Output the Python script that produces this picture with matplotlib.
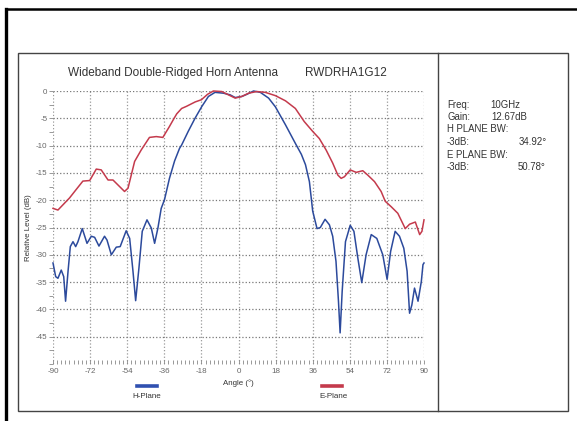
import matplotlib
matplotlib.use("Agg")
import matplotlib.pyplot as plt
import numpy as np
from matplotlib.lines import Line2D
from matplotlib.patches import Rectangle
from matplotlib.ticker import MultipleLocator

plt.rcParams['font.family'] = ['Liberation Sans', 'DejaVu Sans']
plt.rcParams['axes.unicode_minus'] = False

# H-plane pattern (blue)
h_angle = [-90, -88.7, -87.6, -86, -84.8, -83.9, -82.7, -81.6, -80.3, -79, -77.9,
           -75.8, -73.5, -71.4, -69.8, -67.7, -65, -63.8, -61.7, -59.3, -57.4,
           -54.5, -52.8, -51.2, -49.9, -48.3, -46.7, -44.4, -42.3, -40.7, -39.1,
           -37.5, -35.9, -33.5, -31, -28.6, -27.6, -24.4, -21.1, -17.9, -14.6,
           -11.4, -7.3, -4.1, -1.6, 1.6, 4.1, 7.3, 10.6, 14.6, 17.9, 22.8, 27.6,
           30.5, 32.5, 34.4, 36, 38.1, 39.7, 42, 44.1, 45.7, 47.3, 48.5, 49.3,
           50.3, 51.9, 54.2, 56, 57.9, 59.8, 61.9, 64.4, 67.1, 70, 72.1, 73.8,
           76, 78.1, 80.2, 81.8, 83, 84.1, 85.4, 87.1, 88.7, 89.5, 90]
h_level = [-31.5, -34, -34.3, -32.8, -34, -38.5, -33, -28.5, -27.6, -28.5, -27.6,
           -25.2, -27.9, -26.6, -26.8, -28.4, -26.6, -27.3, -30, -28.6, -28.5,
           -25.6, -27, -33, -38.4, -32.4, -25.7, -23.6, -25.1, -27.9, -25.1,
           -21.5, -19.9, -16, -12.8, -10.5, -9.9, -7.4, -5.0, -2.9, -1.0,
           -0.25, -0.4, -0.7, -1.2, -1.0, -0.6, 0, -0.25, -1.3, -2.9, -6.2, -9.6,
           -11.6, -13.5, -16.6, -22, -25.2, -25, -23.5, -24.5, -26.6, -31.2, -38.5, -44.3,
           -36.7, -27.6, -24.6, -25.7, -30.6, -35.1, -30, -26.3, -27, -30, -34.5, -29.4,
           -25.7, -26.6, -28.8, -33, -40.7, -39.2, -36.1, -38.5, -34.9, -31.8, -31.5]

# E-plane pattern (red)
e_angle = [-90, -87.6, -84.3, -82, -79.5, -75.5, -72.2, -69, -66.6, -63.3, -60.9,
           -58.5, -55.3, -53.6, -50.4, -47.2, -43.2, -39.9, -36.7, -33.5, -31.7,
           -30, -27.6, -25.2, -21, -18, -15, -12.2, -8.1, -4.9, -1.6, 1.6, 4.9,
           8.9, 13, 17.9, 22.8, 27.6, 31.9, 36, 39.2, 42.5, 45.7, 48.2, 49.8,
           51.4, 54.2, 57.1, 60.3, 62.7, 66, 69.2, 71.2, 74.1, 77.3, 80.9, 83,
           85.8, 87.9, 89, 90]
e_level = [-21.5, -21.8, -20.5, -19.6, -18.4, -16.5, -16.4, -14.3, -14.45, -16.3, -16.3,
           -17.2, -18.4, -17.8, -12.9, -10.8, -8.5, -8.35, -8.5, -6.5, -5.3,
           -4.2, -3.2, -2.8, -2.0, -1.6, -0.6, 0, -0.1, -0.7, -1.3, -1.0, -0.4,
           -0.1, -0.25, -0.85, -1.8, -3.2, -5.6, -7.4, -8.7, -10.8, -13.2, -15.4, -16,
           -15.7, -14.45, -14.9, -14.6, -15.4, -16.6, -18.4, -20.2, -21.2, -22.4, -25.2, -24.4,
           -24, -26.3, -25.7, -23.6]

x_ticks = np.arange(-90, 91, 18)
y_ticks = np.arange(-45, 1, 5)

blue = '#2c4a9c'
red = '#c43a4c'
txt = '#333333'

W, H = 577, 421
fig = plt.figure(figsize=(W / 100, H / 100), dpi=100)

def fx(px):
    return px / W

def fy(py):
    return 1 - py / H

# outer frame lines and inner box
fig.add_artist(Line2D([fx(5.5), fx(577)], [fy(9), fy(9)], color='black', lw=1.8))
fig.add_artist(Line2D([fx(5.5), fx(5.5)], [fy(9), fy(421)], color='black', lw=2.4))
fig.add_artist(Rectangle((fx(18), fy(410.5)), fx(568) - fx(18), fy(53) - fy(410.5),
                         fill=False, edgecolor='#444444', lw=1.0))
fig.add_artist(Line2D([fx(437.5), fx(437.5)], [fy(53), fy(410.5)], color='#444444', lw=1.0))

ax = fig.add_axes([fx(53), fy(364), fx(424) - fx(53), fy(91) - fy(364)])
ax.plot(h_angle, h_level, color=blue, lw=1.1, clip_on=False, zorder=3,
        solid_joinstyle='round')
ax.plot(e_angle, e_level, color=red, lw=1.1, clip_on=False, zorder=3,
        solid_joinstyle='round')

ax.set_xlim(-90, 90)
ax.set_ylim(-50, 0)
ax.set_xticks(x_ticks)
ax.set_yticks(y_ticks)
ax.xaxis.set_minor_locator(MultipleLocator(2))
ax.yaxis.set_minor_locator(MultipleLocator(2.5))
for s in ax.spines.values():
    s.set_visible(False)
ax.grid(True, which='major', axis='y', color='#777777', ls=':', lw=0.9)
ax.grid(True, which='major', axis='x', color='#999999', ls=':', lw=0.9)
ax.tick_params(axis='x', which='both', direction='in', length=3, width=0.6,
               color='#888888', labelsize=5.8, labelcolor='#666666', pad=3)
ax.tick_params(axis='y', which='both', direction='out', length=3, width=0.6,
               color='#888888', labelsize=5.8, labelcolor='#666666', pad=1)
ax.set_ylabel('Relative Level (dB)', fontsize=5.7, color=txt, labelpad=3)
ax.set_xlabel('Angle (°)', fontsize=5.7, color=txt, labelpad=3)

# title
fig.text(fx(68), fy(73), 'Wideband Double-Ridged Horn Antenna', fontsize=8.5,
         color=txt, va='center', ha='left')
fig.text(fx(305), fy(73), 'RWDRHA1G12', fontsize=8.5, color=txt, va='center', ha='left')

# legend under the plot
fig.add_artist(Line2D([fx(137), fx(157)], [fy(386), fy(386)], color='#3050b0', lw=2.6))
fig.text(fx(147), fy(397), 'H-Plane', fontsize=5.8, color=txt, ha='center', va='center')
fig.add_artist(Line2D([fx(322), fx(342)], [fy(386), fy(386)], color=red, lw=2.6))
fig.text(fx(333), fy(397), 'E-Plane', fontsize=5.8, color=txt, ha='center', va='center')

# info panel
info_fs = 6.9
fig.text(fx(447), fy(105), 'Freq:', fontsize=info_fs, color=txt, va='center')
fig.text(fx(490), fy(105), '10GHz', fontsize=info_fs, color=txt, va='center')
fig.text(fx(447), fy(117.5), 'Gain:', fontsize=info_fs, color=txt, va='center')
fig.text(fx(491), fy(117.5), '12.67dB', fontsize=info_fs, color=txt, va='center')
fig.text(fx(447), fy(129.5), 'H PLANE BW:', fontsize=info_fs, color=txt, va='center')
fig.text(fx(447), fy(142), '-3dB:', fontsize=info_fs, color=txt, va='center')
fig.text(fx(547), fy(142), '34.92°', fontsize=info_fs, color=txt, va='center', ha='right')
fig.text(fx(447), fy(154.5), 'E PLANE BW:', fontsize=info_fs, color=txt, va='center')
fig.text(fx(447), fy(167), '-3dB:', fontsize=info_fs, color=txt, va='center')
fig.text(fx(546), fy(167), '50.78°', fontsize=info_fs, color=txt, va='center', ha='right')

fig.savefig('out.png', dpi=100)
